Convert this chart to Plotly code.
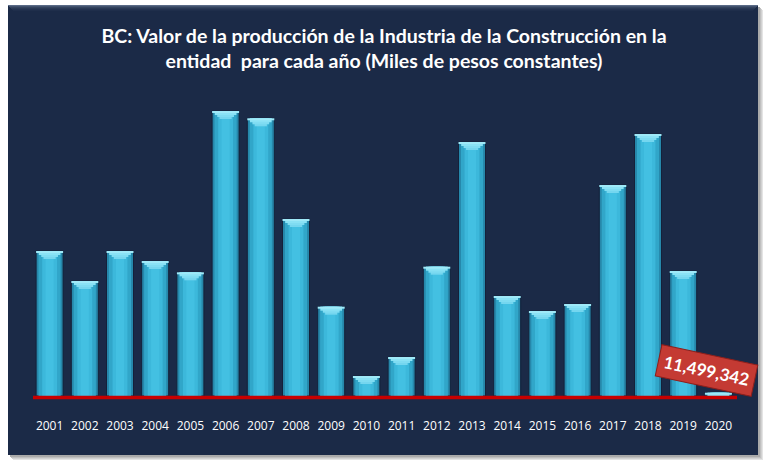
import numpy as np
import plotly.graph_objects as go

years = [str(y) for y in range(2001, 2021)]
values = [505300000, 400700000, 505300000, 470400000, 431000000,
          993100000, 967700000, 616800000, 311200000, 69700000,
          135900000, 450600000, 885100000, 348500000, 296200000,
          320600000, 735300000, 913000000, 435600000, 11499342]
label_text = "11,499,342"
title_text = ("BC: Valor de la producción de la Industria de la Construcción en la<br>"
              "entidad  para cada año (Miles de pesos constantes)")

W, H = 768, 469
ML, MR, MT, MB = 32, 32, 100, 73
plot_h = H - MT - MB
per_px = 3484649.0
ymax = plot_h * per_px

vals = np.array(values, dtype=float)
xi = list(range(len(years)))

fig = go.Figure()

bw = 0.767
fig.add_trace(go.Bar(x=xi, y=vals, width=bw, marker=dict(color="#2687aa", line=dict(width=1, color="#14213a")),
                     hoverinfo="skip"))
fig.add_trace(go.Bar(x=xi, y=vals, width=bw * 0.82, marker=dict(color="#31a6c9", line=dict(width=0)),
                     hoverinfo="skip"))
fig.add_trace(go.Bar(x=xi, y=vals, width=bw * 0.55, marker=dict(color="#3cb8db", line=dict(width=0)),
                     hoverinfo="skip"))
fig.add_trace(go.Bar(x=xi, y=vals, width=bw * 0.3, marker=dict(color="#43c0e2", line=dict(width=0)),
                     hoverinfo="skip"))

for h_px, frac, col in [(8, 0.45, "#74d6ef"), (6, 0.62, "#7fdcf2"), (4, 0.8, "#8ae2f5"), (2, 1.0, "#9fe9f8")]:
    cap = np.minimum(vals, h_px * per_px)
    fig.add_trace(go.Bar(x=xi, y=cap, base=vals - cap, width=bw * frac,
                         marker=dict(color=col, line=dict(width=0)), hoverinfo="skip"))

shapes = []

def px2paper_x(px):
    return (px - ML) / (W - ML - MR)

def px2paper_y(py):
    return (H - MB - py) / plot_h

for off, col in [(5, "#e4e4e4"), (4, "#d2d2d2"), (3, "#c0c0c0"), (2, "#aaaaaa")]:
    shapes.append(dict(type="rect", xref="paper", yref="paper", layer="below",
                       x0=px2paper_x(8 + off), x1=px2paper_x(758 + off),
                       y0=px2paper_y(455 + off), y1=px2paper_y(5 + off),
                       fillcolor=col, line=dict(width=0)))
shapes.append(dict(type="rect", xref="paper", yref="paper", layer="below",
                   x0=px2paper_x(8), x1=px2paper_x(758), y0=px2paper_y(455), y1=px2paper_y(5),
                   fillcolor="#1b2a47", line=dict(width=0)))
for i, col in enumerate(["#5a6a86", "#43536f", "#34445f", "#2a3a56", "#233250", "#1f2e4b"]):
    shapes.append(dict(type="rect", xref="paper", yref="paper", layer="below",
                       x0=px2paper_x(8 + i), x1=px2paper_x(758 - i),
                       y0=px2paper_y(5 + i + 1), y1=px2paper_y(5 + i),
                       fillcolor=col, line=dict(width=0)))
shapes.append(dict(type="line", xref="paper", yref="paper", x0=px2paper_x(33), x1=px2paper_x(737),
                   y0=px2paper_y(397.5), y1=px2paper_y(397.5),
                   line=dict(color="#c80000", width=3.5), layer="above"))

fig.update_layout(
    width=W, height=H,
    margin=dict(l=ML, r=MR, t=MT, b=MB),
    paper_bgcolor="white", plot_bgcolor="rgba(0,0,0,0)",
    barmode="overlay", showlegend=False,
    shapes=shapes,
    title=dict(text=title_text, x=0.5, xanchor="center", xref="paper",
               y=(H - 43) / H, yanchor="top",
               font=dict(family="Lato", size=19.5, color="white", weight="bold")),
    xaxis=dict(range=[-0.5, len(years) - 0.5], tickmode="array", tickvals=xi, ticktext=years,
               showgrid=False, showline=False, zeroline=False,
               ticks="outside", ticklen=19, tickcolor="rgba(0,0,0,0)",
               tickfont=dict(family="Open Sans", size=12, color="white")),
    yaxis=dict(visible=False, range=[0, ymax], showgrid=False, zeroline=False),
    annotations=[dict(x=xi[-1], y=values[-1], xref="x", yref="y", showarrow=False,
                      text="<b>" + label_text + "</b>", textangle=12,
                      xshift=-12, yshift=22,
                      font=dict(family="Lato", size=17, color="white"),
                      bgcolor="#c43a33", bordercolor="#8e1f1b", borderwidth=1, borderpad=5)],
)

fig.write_html("out.html", config={"displayModeBar": False},
               post_script="document.body.style.margin='0';document.body.style.overflow='hidden';")
